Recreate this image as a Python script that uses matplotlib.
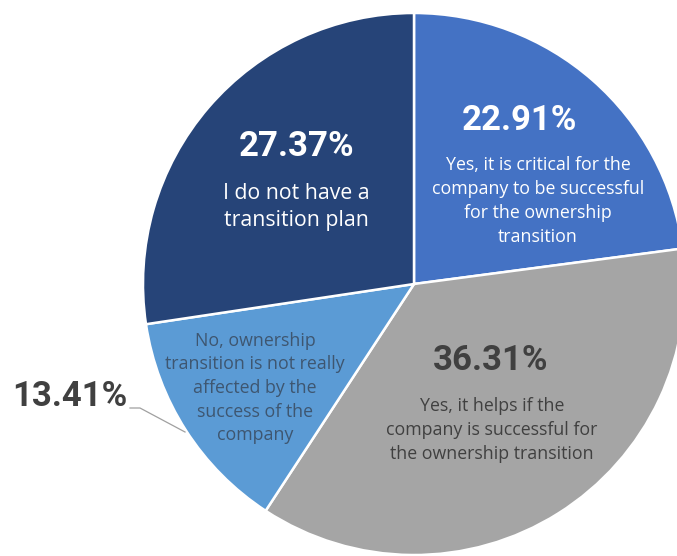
import matplotlib
matplotlib.use("Agg")
import matplotlib.pyplot as plt

# survey answers, clockwise from 12 o'clock
shares = [22.91, 36.31, 13.41, 27.37]
answers = [
    "Yes, it is critical for the\ncompany to be successful\nfor the ownership\ntransition",
    "Yes, it helps if the\ncompany is successful for\nthe ownership transition",
    "No, ownership\ntransition is not really\naffected by the\nsuccess of the\ncompany",
    "I do not have a\ntransition plan",
]
colors = ["#4472C4", "#A5A5A5", "#5B9BD5", "#264478"]

W, H = 677, 556
fig = plt.figure(figsize=(W / 100, H / 100), dpi=100)
ax = fig.add_axes([0, 0, 1, 1])

cx, cy, R = 414, H - 284, 271
ax.pie(shares, colors=colors, startangle=90, counterclock=False,
       radius=R, center=(cx, cy), frame=True,
       wedgeprops=dict(edgecolor="white", linewidth=1.8))
ax.set_xlim(0, W)
ax.set_ylim(0, H)
ax.set_aspect("equal")
ax.axis("off")

pct_font = dict(family="Roboto", weight="bold", fontsize=25)

def y(v):
    return H - v

# (pct x, pct y, label x, label y, pct colour, label colour, label size, spacing)
spots = [
    (519, 121, 538, 201, "white", "white", 12.8, 1.42),
    (491, 360, 492, 430, "#404040", "#404040", 12.8, 1.42),
    (70, 397, 255, 388, "#404040", "#3E5670", 12.8, 1.4),
    (297, 147, 296, 207, "white", "white", 15.3, 1.35),
]
for v, txt, (px, py, lx, ly, pc, lc, fs, ls) in zip(shares, answers, spots):
    ax.text(px, y(py), f"{v:.2f}%", color=pc, ha="center", va="center", **pct_font)
    ax.text(lx, y(ly), txt, color=lc, ha="center", va="center",
            family="Open Sans", fontsize=fs, linespacing=ls)

# leader line for the small slice
ax.plot([130, 140, 185], [y(408), y(408), y(432)], color="#A0A0A0", lw=0.9)

fig.savefig("out.png", dpi=100)
